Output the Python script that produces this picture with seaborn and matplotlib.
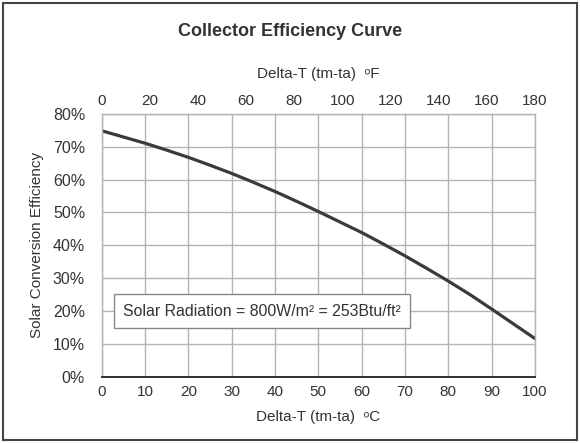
import numpy as np
import pandas as pd
import seaborn as sns
import matplotlib
matplotlib.use("Agg")
import matplotlib.pyplot as plt
from matplotlib.patches import Rectangle

# collector efficiency (every 5 degC)
delta_c = [0, 5, 10, 15, 20, 25, 30, 35, 40, 45, 50,
           55, 60, 65, 70, 75, 80, 85, 90, 95, 100]
efficiency = [74.9, 73.0, 71.1, 69.0, 66.8, 64.4, 61.9, 59.2, 56.4, 53.4, 50.3,
              47.1, 43.9, 40.4, 36.8, 33.0, 29.1, 25.0, 20.6, 16.1, 11.6]
c_ticks = list(range(0, 101, 10))
f_ticks = list(range(0, 181, 20))
y_ticks = list(range(0, 81, 10))

sns.set_style("white")
plt.rcParams['font.family'] = ['Liberation Sans', 'DejaVu Sans']

txt = "#333333"
grid_col = "#b4b4b4"

df = pd.DataFrame({"c": delta_c, "eff": efficiency})

fig = plt.figure(figsize=(5.8, 4.43), dpi=100)
ax = fig.add_axes([0.1753, 0.1497, 0.7471, 0.5930])

sns.lineplot(data=df, x="c", y="eff", ax=ax, color="#3a3a3a", linewidth=2.3)

ax.set_xlim(0, 100)
ax.set_ylim(0, 80)
ax.set_xticks(c_ticks)
ax.set_yticks(y_ticks)
ax.set_yticklabels([str(v) + "%" for v in y_ticks])
ax.grid(True, color=grid_col, linewidth=1)
for s in ["left", "right", "top"]:
    ax.spines[s].set_color(grid_col)
    ax.spines[s].set_linewidth(1)
ax.spines["bottom"].set_color("#222222")
ax.spines["bottom"].set_linewidth(1.3)
ax.tick_params(axis="x", direction="in", length=4, width=1.3, color="#222222",
               labelsize=11, labelcolor=txt, pad=6)
ax.tick_params(axis="y", length=0, labelsize=11.5, labelcolor=txt, pad=12)

ax.set_xlabel("Delta-T (tm-ta)  ᵒC", fontsize=11, color=txt, labelpad=8)
ax.set_ylabel("Solar Conversion Efficiency", fontsize=11, color=txt, labelpad=6)

top = ax.secondary_xaxis("top", functions=(lambda c: c * 1.8, lambda f: f / 1.8))
top.set_xticks(f_ticks)
top.tick_params(length=0, labelsize=11, labelcolor=txt, pad=4)
top.spines["top"].set_visible(False)
top.set_xlabel("Delta-T (tm-ta)  ᵒF", fontsize=11, color=txt, labelpad=12)

ax.text(37, 19.9, "Solar Radiation = 800W/m² = 253Btu/ft²", ha="center", va="center",
        fontsize=11.4, color=txt,
        bbox=dict(boxstyle="square,pad=0.6", facecolor="white", edgecolor="#888888", linewidth=1))

fig.text(0.5, 0.93, "Collector Efficiency Curve", ha="center", va="center",
         fontsize=13, fontweight="bold", color=txt)

fig.patches.append(Rectangle((0.006, 0.007), 0.988, 0.987, transform=fig.transFigure,
                             fill=False, edgecolor="#444444", linewidth=1.5))

fig.savefig("out.png", dpi=100)
